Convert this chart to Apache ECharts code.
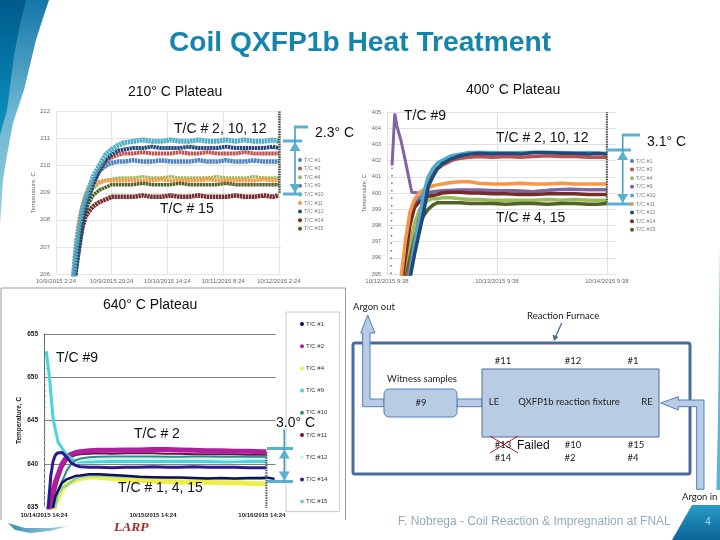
<!DOCTYPE html>
<html><head><meta charset="utf-8">
<style>html,body{margin:0;padding:0;background:#fff}#c{width:720px;height:540px}</style>
<script src="https://cdn.jsdelivr.net/npm/echarts@6/dist/echarts.min.js"></script>
</head><body><div id="c"></div>
<script>
// ---------- 210 C plateau ----------
const ticks210 = ['10/9/2015 2:24','10/9/2015 20:24','10/10/2015 14:24','10/11/2015 8:24','10/12/2015 2:24'];
const hours210 = [5.5,6.5,7.5,8.5,9.5,10.5,12,14,16,18,20,22,25,28,31,34,37,40,43,46,49,52,55,58,61,64,67,70,72];
const a_tc1  = [205.5,206.6,207.5,208.2,208.7,209,209.4,209.8,210,210.1,210.15,210.15,210.2,210.15,210.15,210.2,210.15,210.15,210.15,210.2,210.15,210.15,210.2,210.15,210.15,210.2,210.15,210.15,210.15];
const a_tc2  = [205.4,206.5,207.4,208.1,208.6,208.9,209.4,209.85,210.15,210.3,210.4,210.45,210.45,210.5,210.45,210.45,210.45,210.5,210.45,210.45,210.5,210.45,210.45,210.45,210.5,210.45,210.45,210.45,210.45];
const a_tc4  = [205.3,206.4,207.3,208,208.5,208.85,209.15,209.35,209.45,209.5,209.55,209.55,209.55,209.6,209.55,209.55,209.6,209.55,209.55,209.55,209.55,209.6,209.55,209.55,209.55,209.6,209.55,209.55,209.55];
const a_tc9Hours = [72.2,72.2];
const a_tc9  = [209,212];
const a_tc10 = [205.7,207,207.8,208.4,208.8,209.1,209.6,210,210.4,210.6,210.75,210.85,210.9,210.95,210.9,210.9,210.95,210.9,210.9,210.95,210.9,210.9,210.95,210.9,210.95,210.9,210.9,210.95,210.9];
const a_tc11 = [205.8,207.2,208,208.5,208.9,209.2,209.35,209.4,209.45,209.45,209.45,209.45,209.45,209.45,209.45,209.5,209.45,209.45,209.45,209.45,209.5,209.45,209.45,209.45,209.45,209.45,209.5,209.45,209.45];
const a_tc12 = [205.2,206.2,207,207.8,208.4,208.8,209.3,209.8,210.2,210.4,210.55,210.6,210.65,210.65,210.7,210.65,210.65,210.65,210.7,210.65,210.65,210.65,210.7,210.65,210.65,210.65,210.65,210.7,210.65];
const a_tc14 = [205.3,206.2,207,207.7,208.1,208.3,208.5,208.65,208.75,208.85,208.85,208.85,208.85,208.9,208.85,208.85,208.9,208.85,208.85,208.9,208.85,208.85,208.85,208.9,208.85,208.85,208.9,208.85,208.9];
const a_tc15 = [205.2,206.3,207.2,207.9,208.3,208.6,208.9,209.1,209.2,209.3,209.3,209.3,209.3,209.35,209.3,209.3,209.3,209.35,209.3,209.3,209.3,209.3,209.35,209.3,209.3,209.3,209.3,209.3,209.3];

// ---------- 400 C plateau ----------
const ticks400 = ['10/12/2015 9:38','10/13/2015 9:38','10/14/2015 9:38'];
const hours400 = [3,4,5,6,7,8,9,10,11,12,14,16,18,20,23,26,29,32,35,38,41,44,46,48];
const b_tc1  = [394.2,396.5,398.4,399.3,399.7,399.9,400,400.05,400.1,400.1,400.15,400.15,400.15,400.1,400.15,400.15,400.1,400.1,400.15,400.2,400.2,400.2,400.2,400.2];
const b_tc2  = [393.6,394.5,395.4,397,398.4,399.6,400.7,401.2,401.5,401.7,402,402.15,402.2,402.25,402.2,402.25,402.2,402.25,402.3,402.25,402.25,402.2,402.2,402.2];
const b_tc4  = [393.8,395.1,396.8,398.1,398.9,399.3,399.55,399.65,399.65,399.7,399.7,399.65,399.6,399.6,399.55,399.55,399.55,399.55,399.6,399.55,399.6,399.55,399.55,399.55];
const b_tc9RiseHours = [0.9,1.1];
const b_tc9Rise = [395,401.7];
const b_tc9Hours = [1.1,1.7,2.2,3,4,5,5.4,7,9,12,16,20,24,28,32,36,40,44,48];
const b_tc9  = [401.7,404.9,404.1,403.3,402,400.6,400.05,400,400.05,400.15,400.2,400.2,400.15,400.15,400.1,400.2,400.25,400.2,400.2];
const b_tc10 = [394,394.2,395,396.8,398.3,400,401,401.5,401.85,402,402.3,402.4,402.5,402.5,402.5,402.45,402.5,402.5,402.5,402.5,402.45,402.5,402.45,402.45];
const b_tc11 = [394.6,397,398.8,399.6,400,400.2,400.3,400.45,400.5,400.55,400.65,400.7,400.7,400.6,400.55,400.55,400.6,400.55,400.55,400.6,400.55,400.55,400.55,400.55];
const b_tc12 = [394,394,394.7,396.2,397.5,398.8,400.4,401,401.5,401.8,402.1,402.3,402.4,402.45,402.4,402.45,402.4,402.5,402.5,402.45,402.45,402.4,402.45,402.4];
const b_tc14 = [394,396,398,399.1,399.45,399.65,399.8,399.85,399.9,400,400.05,400.05,400,400,399.95,399.95,399.9,399.9,399.95,399.95,399.95,399.9,399.9,399.9];
const b_tc15 = [393.5,394.6,395.9,397.2,398,398.6,399,399.25,399.4,399.4,399.4,399.4,399.35,399.35,399.35,399.3,399.35,399.35,399.3,399.35,399.35,399.3,399.3,399.35];
const b_endHours = [48,48,48];
const b_end = [399.4,402,405];

// ---------- 640 C plateau ----------
const ticks640 = ['10/14/2015 14:24','10/15/2015 14:24','10/16/2015 14:24'];
const hours640 = [0.5,1,1.5,2,2.5,3,4,5,6,7,8,10,12,15,18,21,24,27,30,33,36,39,42,45,48,49];
const c_tc1  = [632,632,632,635,636.2,636.8,637.8,638.2,638.4,638.6,638.65,638.8,638.8,638.7,638.6,638.5,638.45,638.4,638.4,638.35,638.3,638.35,638.3,638.35,638.35,638.4];
const c_tc2  = [633,634.5,635.8,636.9,637.9,638.6,640,640.8,641.1,641.3,641.4,641.5,641.55,641.55,641.6,641.6,641.65,641.65,641.6,641.55,641.5,641.5,641.45,641.45,641.4,641.4];
const c_tc4  = [632,632,632,634.4,635.4,635.9,637.1,637.6,637.9,638.1,638.3,638.5,638.45,638.3,638.15,638.1,638,637.95,637.9,637.9,637.85,637.8,637.8,637.75,637.7,637.7];
const c_tc9RiseHours = [0.1,0.5];
const c_tc9Rise = [635,653];
const c_tc9Hours = [0.5,0.8,1.2,2,3.1,5,7,10,15,20,25,30,35,40,45,49];
const c_tc9  = [653,653,650,645.2,642.5,641,640.2,640.2,640.25,640.25,640.3,640.25,640.25,640.2,640.25,640.25];
const c_tc10 = [632,632,633,635,636,636.8,638,639.2,640,640.4,640.6,640.75,640.8,640.85,640.85,640.85,640.85,640.8,640.8,640.85,640.85,640.8,640.8,640.8,640.8,640.8];
const c_tc11 = [632,633,635,636,637,638,639.5,640.4,640.8,641,641.1,641.15,641.2,641.15,641.2,641.2,641.2,641.15,641.15,641.1,641.1,641.1,641.1,641.05,641.05,641.05];
const c_tc12 = [632,632,633,634.5,635.5,636.5,638,639,639.8,640.2,640.4,640.5,640.55,640.55,640.55,640.55,640.6,640.55,640.55,640.55,640.55,640.55,640.5,640.55,640.55,640.55];
const c_tc14 = [633,635.5,638.6,640.3,641,641.25,641.3,640.8,640.1,639.8,639.65,639.6,639.6,639.55,639.6,639.6,639.65,639.6,639.6,639.65,639.6,639.6,639.6,639.55,639.55,639.55];
const c_tc15 = [632,632,632,634.2,635,636.4,637.2,637.5,637.9,638.3,638.45,638.6,638.6,638.55,638.5,638.45,638.4,638.4,638.35,638.3,638.3,638.3,638.25,638.25,638.25,638.25];
const c_tailHours = [49,50.8];
const c_tail = [638.4,638.25];
const c_endHours = [49,49];
const c_end = [634.5,641.4];

const legendNames = ['T/C #1','T/C #2','T/C #4','T/C #9','T/C #10','T/C #11','T/C #12','T/C #14','T/C #15'];
const palette400 = ['#4F81BD','#C0504D','#9BBB59','#8064A2','#4BACC6','#F79646','#1F497D','#772C2A','#4F6228'];
const palette640 = ['#10105E','#B01FA0','#EEEE44','#45D6DC','#2E8B8B','#70103A','#D4F0EE','#2E1A8C','#7ACCC8'];

const zip = (xs, ys) => xs.map((x, i) => [x, ys[i]]);
const font = 'Liberation Sans, Arial, sans-serif';
const mkSeries = (name, idx, xs, ys, color, width, extra) => Object.assign({
  name, type: 'line', xAxisIndex: idx, yAxisIndex: idx, data: zip(xs, ys), showSymbol: false,
  lineStyle: { color, width }, itemStyle: { color }, silent: true, clip: true, z: 3
}, extra || {});

function dotted(color, width) { return { lineStyle: { color, width, type: [2.4, 0.6] } }; }

const series = [
  mkSeries('T/C #1', 0, hours210, a_tc1, '#4F81BD', 4.5, dotted('#4F81BD', 4.5)),
  mkSeries('T/C #2', 0, hours210, a_tc2, '#C0504D', 4, dotted('#C0504D', 4)),
  mkSeries('T/C #4', 0, hours210, a_tc4, '#9BBB59', 3, dotted('#9BBB59', 3)),
  mkSeries('T/C #11', 0, hours210, a_tc11, '#F79646', 4, dotted('#F79646', 4)),
  mkSeries('T/C #15', 0, hours210, a_tc15, '#4F6228', 3.5, dotted('#4F6228', 3.5)),
  mkSeries('T/C #14', 0, hours210, a_tc14, '#772C2A', 4.5, dotted('#772C2A', 4.5)),
  mkSeries('T/C #12', 0, hours210, a_tc12, '#1F497D', 4, dotted('#1F497D', 4)),
  mkSeries('T/C #10', 0, hours210, a_tc10, '#4BACC6', 5, dotted('#4BACC6', 5)),
  mkSeries('T/C #9', 0, a_tc9Hours, a_tc9, '#3A4A3A', 2.5, { lineStyle: { color: '#3A4A3A', width: 2.5, type: [1.5, 1] } }),

  mkSeries('T/C #4', 1, hours400, b_tc4, '#9BBB59', 3.5),
  mkSeries('T/C #15', 1, hours400, b_tc15, '#4F6228', 3.5),
  mkSeries('T/C #1', 1, hours400, b_tc1, '#4F81BD', 3),
  mkSeries('T/C #9', 1, b_tc9RiseHours, b_tc9Rise, '#8064A2', 1.5, { lineStyle: { color: '#8064A2', width: 1.5, type: [1.5, 6] } }),
  mkSeries('T/C #9', 1, b_tc9Hours, b_tc9, '#8064A2', 3),
  mkSeries('T/C #14', 1, hours400, b_tc14, '#772C2A', 3.5),
  mkSeries('T/C #11', 1, hours400, b_tc11, '#F79646', 3.5),
  mkSeries('T/C #2', 1, hours400, b_tc2, '#C0504D', 3.5),
  mkSeries('T/C #10', 1, hours400, b_tc10, '#4BACC6', 3.5),
  mkSeries('T/C #12', 1, hours400, b_tc12, '#1F497D', 3.5),
  mkSeries('End of record', 1, b_endHours, b_end, '#46503A', 2, { lineStyle: { color: '#46503A', width: 2, type: [1.5, 1] } }),

  mkSeries('T/C #4', 2, hours640, c_tc4, '#EEEE44', 5),
  mkSeries('T/C #11', 2, hours640, c_tc11, '#70103A', 2),
  mkSeries('T/C #2', 2, hours640, c_tc2, '#B01FA0', 5),
  mkSeries('T/C #9', 2, c_tc9RiseHours, c_tc9Rise, '#9FE4E8', 1.5, { lineStyle: { color: '#9FE4E8', width: 1.5, type: [1.5, 4] } }),
  mkSeries('T/C #9', 2, c_tc9Hours, c_tc9, '#45D6DC', 3),
  mkSeries('T/C #12', 2, hours640, c_tc12, '#D4F0EE', 2),
  mkSeries('T/C #10', 2, hours640, c_tc10, '#2E8B8B', 2),
  mkSeries('T/C #14', 2, hours640, c_tc14, '#2E1A8C', 3),
  mkSeries('T/C #15', 2, hours640, c_tc15, '#7ACCC8', 2),
  mkSeries('T/C #1', 2, hours640, c_tc1, '#10105E', 2.5),
  mkSeries('T/C #1', 2, c_tailHours, c_tail, '#10105E', 2.5),
  mkSeries('End of record', 2, c_endHours, c_end, '#445566', 2, { lineStyle: { color: '#445566', width: 2, type: [1.5, 1] } })
];

const palette210 = palette400;
function legendOf(left, top, colors, gap, size, textColor, extra) {
  return Object.assign({
    orient: 'vertical', left, top, itemWidth: 4, itemHeight: 4, itemGap: gap, icon: 'circle', selectedMode: false,
    padding: 0, align: 'left',
    textStyle: { fontSize: size, color: textColor, fontFamily: font, padding: [0, 0, 0, -3] },
    data: legendNames.map((name, i) => ({ name, itemStyle: { color: colors[i] } }))
  }, extra || {});
}

function xAxisOf(idx, max, interval, ticks, labelColor, size, weight, gridColor, margin) {
  return {
    gridIndex: idx, type: 'value', min: 0, max, interval,
    axisLine: { show: idx !== 2, lineStyle: { color: gridColor, width: 1 } }, axisTick: { show: false },
    splitLine: { show: idx !== 2, showMinLine: true, showMaxLine: false, lineStyle: { color: gridColor, width: 1 } },
    axisLabel: { showMaxLabel: false, hideOverlap: false, color: labelColor, fontSize: size, fontWeight: weight, fontFamily: font, margin,
      formatter: v => ticks[v / interval] || '' }
  };
}
function yAxisOf(idx, min, max, interval, labelColor, size, weight, gridColor, axisColor, nameGap, nameWeight) {
  return {
    gridIndex: idx, type: 'value', min, max, interval, name: 'Temperature, C', nameLocation: 'middle', nameGap,
    nameTextStyle: { fontSize: size, color: labelColor, fontFamily: font, fontWeight: nameWeight },
    axisLine: { show: true, lineStyle: { color: axisColor, width: 1 } }, axisTick: { show: false },
    splitLine: { show: true, showMinLine: idx !== 2, lineStyle: { color: gridColor, width: 1 } },
    axisLabel: { color: labelColor, fontSize: size, fontWeight: weight, fontFamily: font, margin: 6 }
  };
}

const G = echarts.graphic;
const BR = '#5BB0D0';
function txt(text, x, y, size, o) {
  o = o || {};
  return { type: 'text', x, y, z: o.z || 100, silent: true, style: {
    text, fill: o.fill || '#111', textAlign: o.align || 'left', textVerticalAlign: 'middle',
    font: (o.style ? o.style + ' ' : '') + size + 'px ' + (o.family || font) } };
}
function lbl(text, x, y, o) { return txt(text, x, y, o && o.size || 9.5, Object.assign({ family: 'Lato, sans-serif', fill: '#222' }, o || {})); }
function seg(x1, y1, x2, y2, color, w) {
  return { type: 'line', z: 95, silent: true, shape: { x1, y1, x2, y2 }, style: { stroke: color, lineWidth: w } };
}
function poly(points, fill, stroke, w, z) {
  return { type: 'polygon', z: z || 96, silent: true, shape: { points }, style: { fill, stroke: stroke || 'none', lineWidth: w || 0 } };
}
function bracket(x0, x1, xv, yTop, yBot, xBar, yBar) {
  return [
    seg(x0, yTop, x1, yTop, BR, 3), seg(x0, yBot, x1, yBot, BR, 3),
    seg(xv, yBar, xv, yBot, '#4A9CBE', 1.6), seg(xv - 1, yBar, xBar, yBar, BR, 3),
    poly([[xv - 5.5, yTop + 10], [xv + 5.5, yTop + 10], [xv, yTop + 1]], BR),
    poly([[xv - 5.5, yBot - 10], [xv + 5.5, yBot - 10], [xv, yBot - 1]], BR)
  ];
}
const FILL = '#B8CCE4', BLUE = '#4A6C9B';

const elements = [
  poly([[0,0],[49,0],[43,18],[36,40],[24,90],[13,123],[7,155],[3,180],[0,225]], new G.LinearGradient(0, 0, 0, 1, [{ offset: 0, color: '#1577A8' }, { offset: .5, color: '#6DB6D3' }, { offset: 1, color: '#95CDE2' }]), null, 0, 1),
  poly([[0,0],[26,0],[20,25],[14,55],[7,110],[0,135]], new G.LinearGradient(0, 0, 0, 1, [{ offset: 0, color: '#005A8C' }, { offset: 1, color: '#0C95C2' }]), null, 0, 2),
  poly([[692, 505], [720, 505], [720, 540], [672, 540]], new G.LinearGradient(0, 0, 0, 1, [{ offset: 0, color: '#2A9CC8' }, { offset: 1, color: '#0A6396' }]), null, 0, 2),
  poly([[720, 247], [719, 330], [718, 420], [716, 505], [720, 505]], '#5BB5D5', null, 0, 2),

  txt('Coil QXFP1b Heat Treatment', 360, 43, 28.2, { align: 'center', style: 'bold', fill: '#1585AD' }),
  txt('210° C Plateau', 128, 92, 14), txt('400° C Plateau', 466, 90, 14),
  txt('T/C # 2, 10, 12', 174, 129, 14), txt('2.3° C', 315, 133, 14), txt('T/C # 15', 160, 209, 14),
  txt('T/C #9', 404, 116, 14), txt('T/C # 2, 10, 12', 496, 138, 14), txt('3.1° C', 647, 142, 14), txt('T/C # 4, 15', 496, 218, 14),
  txt('640° C Plateau', 103, 305, 14), txt('T/C #9', 56, 358, 14), txt('T/C # 2', 134, 434, 14),
  txt('3.0° C', 276, 423, 14), txt('T/C # 1, 4, 15', 118, 488, 14),

  ...bracket(283, 302, 295, 141, 194, 308, 127),
  ...bracket(607, 631, 622.7, 150, 204, 640, 135),
  ...bracket(267, 293, 284.3, 448.5, 481.5, 284.3, 430),

  { type: 'polyline', z: 4, silent: true, shape: { points: [[1, 520], [1, 288], [345.5, 288], [345.5, 520]] }, style: { stroke: '#999', lineWidth: 1, fill: 'none' } },

  // furnace schematic
  { type: 'rect', z: 10, silent: true, shape: { x: 353, y: 343, width: 337, height: 131, r: 2 }, style: { fill: 'none', stroke: BLUE, lineWidth: 3 } },
  poly([[384, 399], [370, 399], [370, 333], [375, 333], [367.7, 315], [360.7, 333], [362.7, 333], [362.7, 406.7], [384, 406.7]], FILL, '#4F81BD', 1, 11),
  poly([[660.7, 403], [678.3, 396.7], [678.3, 400], [704, 400], [704, 489.3], [696.7, 489.3], [696.7, 406.7], [678.3, 406.7], [678.3, 410]], FILL, '#4F81BD', 1, 11),
  { type: 'rect', z: 11, silent: true, shape: { x: 457, y: 399, width: 25, height: 7.7 }, style: { fill: FILL, stroke: '#4F81BD', lineWidth: 1 } },
  { type: 'rect', z: 12, silent: true, shape: { x: 384, y: 389, width: 73, height: 28, r: 5 }, style: { fill: FILL, stroke: '#4F81BD', lineWidth: 1 } },
  { type: 'rect', z: 12, silent: true, shape: { x: 482, y: 369, width: 177, height: 68 }, style: { fill: FILL, stroke: BLUE, lineWidth: 1 } },
  seg(561.7, 323, 555.5, 337, BLUE, 1.3),
  poly([[554, 341], [552.5, 334.5], [558.5, 337]], BLUE),
  lbl('Argon out', 353, 307), lbl('Reaction Furnace', 527, 316), lbl('#11', 503, 361, { align: 'center' }), lbl('#12', 573, 361, { align: 'center' }), lbl('#1', 633, 361, { align: 'center' }),
  lbl('Witness samples', 422, 379, { align: 'center' }), lbl('#9', 421, 403, { align: 'center' }), lbl('LE', 494, 402, { align: 'center' }),
  lbl('QXFP1b reaction fixture', 569, 402, { align: 'center' }), lbl('RE', 647, 402, { align: 'center' }),
  lbl('#13', 503, 445, { align: 'center' }), lbl('#10', 573, 445, { align: 'center' }), lbl('#15', 636, 445, { align: 'center' }),
  lbl('#14', 503, 458, { align: 'center' }), lbl('#2', 570, 458, { align: 'center' }), lbl('#4', 633, 458, { align: 'center' }),
  seg(490, 453, 518, 436, '#B02020', 1), seg(490, 436, 518, 453, '#B02020', 1),
  txt('Failed', 517, 446, 12),
  { type: 'rect', z: 97, silent: true, shape: { x: 681, y: 490, width: 39, height: 15 }, style: { fill: '#fff' } },
  lbl('Argon in', 682, 497, { size: 9.5 }),

  txt('F. Nobrega - Coil Reaction & Impregnation at FNAL', 398, 522, 12, { fill: '#93ABBB' }),
  txt('4', 708, 522, 10, { align: 'center', fill: '#A9D2E2' }),
  txt('LARP', 114, 528, 13.5, { style: 'italic bold', family: 'Liberation Serif, serif', fill: '#A52A2A' }),
  poly([[8,523],[25,528],[50,528],[68,526],[50,531],[30,533],[15,530]], new G.LinearGradient(0, 0, 1, 0, [{ offset: 0, color: '#3B8FB8' }, { offset: 1, color: '#A9D5E6' }]), null, 0, 3)
];

const option = {
  animation: false,
  backgroundColor: '#fff',
  grid: [
    { left: 56, top: 111.5, width: 225, height: 162.5 },
    { left: 387, top: 112, width: 229, height: 162 },
    { left: 44, top: 334, width: 231.5, height: 173 }
  ],
  xAxis: [
    xAxisOf(0, 72.7, 18, ticks210, '#6A6A6A', 6, 'normal', '#E6E6E6', 4),
    xAxisOf(1, 50, 24, ticks400, '#6A6A6A', 6, 'normal', '#E0E0E0', 4),
    xAxisOf(2, 51, 24, ticks640, '#222', 6, 'bold', '#BBBBBB', 5)
  ],
  yAxis: [
    yAxisOf(0, 206, 212, 1, '#6A6A6A', 6, 'normal', '#E6E6E6', '#E6E6E6', 17, 'normal'),
    yAxisOf(1, 395, 405, 1, '#6A6A6A', 5.5, 'normal', '#E0E0E0', '#E0E0E0', 15, 'normal'),
    yAxisOf(2, 635, 655, 5, '#222', 6.5, 'bold', '#808080', '#666', 21, 'bold')
  ],
  legend: [
    legendOf(298, 157, palette210, 2.6, 5.5, '#808080'),
    legendOf(630, 158, palette400, 2.6, 5.5, '#808080'),
    legendOf(286, 312, palette640, 16.2, 6, '#333', { backgroundColor: '#fff', borderColor: '#CCC', borderWidth: 1, padding: [9, 12, 7, 14], width: 56 })
  ],
  series,
  graphic: { elements }
};
echarts.init(document.getElementById('c'), null, { renderer: 'canvas' }).setOption(option);
</script></body></html>
